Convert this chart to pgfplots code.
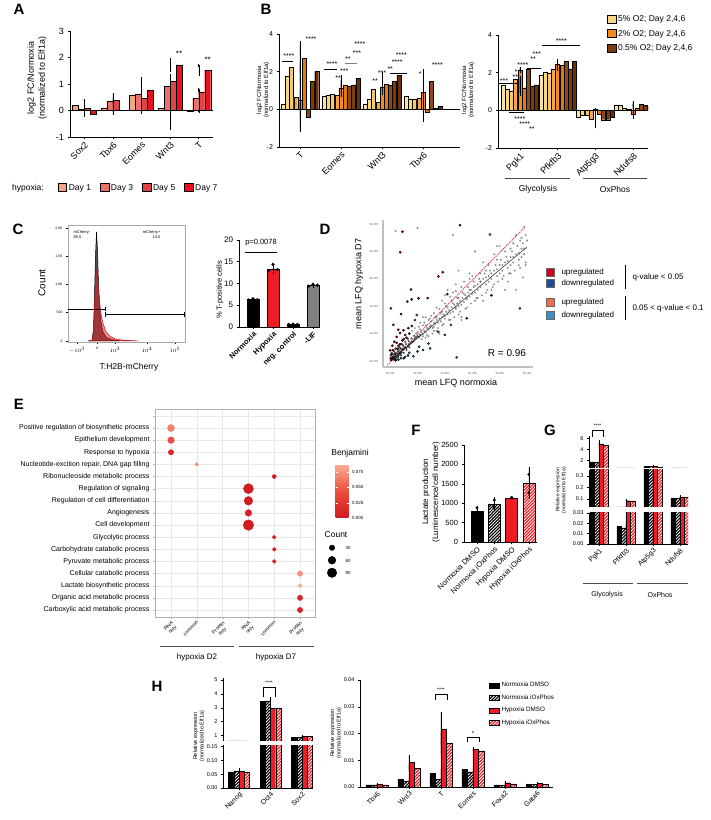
\documentclass[border=0pt]{standalone}
\usepackage{pgfplots}
\usepackage{pgfplotstable}
\pgfplotsset{compat=1.18}
\usepackage{fontspec}
\setmainfont{Liberation Sans}
\setsansfont{Liberation Sans}
\usetikzlibrary{patterns,patterns.meta}
\newcommand\fs[1]{\fontsize{#1}{#1}\selectfont}
\newcommand\fss[2]{\fontsize{#1}{#2}\selectfont}
\definecolor{dA}{HTML}{F4A684}
\definecolor{dB}{HTML}{EF6F6C}
\definecolor{dC}{HTML}{DE4448}
\definecolor{dD}{HTML}{E8121C}
\definecolor{y1}{HTML}{FBE3A0}
\definecolor{y2}{HTML}{F8D682}
\definecolor{y3}{HTML}{F5CA68}
\definecolor{o1}{HTML}{F6A548}
\definecolor{o2}{HTML}{F28C22}
\definecolor{o3}{HTML}{E67A12}
\definecolor{b1}{HTML}{8E4A16}
\definecolor{b2}{HTML}{7A3C10}
\definecolor{b3}{HTML}{68320C}
\definecolor{hred}{HTML}{EE1C25}
\definecolor{upr}{HTML}{D3001C}
\definecolor{dnb}{HTML}{1D4E9A}
\definecolor{upl}{HTML}{F36B4B}
\definecolor{dnl}{HTML}{3B8FCB}
\definecolor{pinkd}{HTML}{E8407A}

\pgfplotsset{
 every axis/.append style={scaled ticks=false, /pgf/number format/1000 sep={}, /pgf/number format/assume math mode=true},
 base/.style={scale only axis, anchor=south west, axis x line*=bottom, axis y line*=left, tick align=outside, major tick length=2.5pt, axis line style={black,line width=0.6pt}, tick style={black,line width=0.5pt}},
 B/.style n args={2}{ybar, bar shift=#1, fill=#2, draw=black, line width=0.35pt},
 E/.style={error bars/y dir=both, error bars/y explicit, error bars/error bar style={black,line width=0.4pt}, error bars/error mark options={black,mark size=1.2pt,line width=0.4pt}},
 boxlegend/.style={legend image code/.code={\draw[##1,draw=black,line width=0.4pt] (0pt,-3.5pt) rectangle (8.5pt,4.5pt);}},
 smallbox/.style={legend image code/.code={\draw[##1,draw=black,line width=0.4pt] (0pt,-2.5pt) rectangle (10pt,2.5pt);}},
 HK/.style={postaction={pattern={Lines[angle=45,distance=2.2pt,line width=0.8pt]},pattern color=white}},
}

\newcommand\Quad[5]{%
 \addplot[B={#2}{black},E] table[x=x,y=a,y error=ea]{#1};
 \addplot[B={#3}{black},HK,E] table[x=x,y=b,y error=eb]{#1};
 \addplot[B={#4}{hred},E] table[x=x,y=c,y error=ec]{#1};
 \addplot[B={#5}{hred},HK,E] table[x=x,y=d,y error=ed]{#1};}

\pgfplotstableread{
x a ea b eb c ec d ed
0 0.20 0.18 0.05 0.08 0.08 0.15 -0.15 0.05
1 0.10 0.22 0.35 0.25 0.38 0.10 0.00 0.05
2 0.57 0.65 0.60 0.22 0.45 0.10 0.75 0.05
3 0.08 0.78 0.90 0.35 1.10 0.22 1.72 0.22
4 -0.03 0.03 0.45 0.30 0.70 0.10 1.52 0.18
}\tA

\pgfplotstableread{
x s1 s2 s3 s4 s5 s6 s7 s8 s9 e1 e2 e3 e4 e5 e6 e7 e8 e9
0 0.30 1.75 2.25 0.65 0.50 2.70 -0.40 1.50 2.00 0.75 0.45 0.25 0.55 0.45 0.85 0.75 0.25 0.08
1 0.70 0.75 0.80 0.75 1.10 1.30 1.25 1.30 1.65 0.08 0.05 0.15 0.25 0.40 0.25 0.03 0.05 0.12
2 0.30 0.55 1.05 0.40 1.15 1.35 1.27 1.50 1.80 0.25 0.40 0.35 0.05 0.35 0.55 0.03 0.10 0.08
3 0.72 0.55 0.55 0.60 0.92 -0.15 1.50 0.05 0.15 0.05 0.05 0.10 0.15 0.70 0.45 0.60 0.30 0.15
}\tBl

\pgfplotstableread{
x s1 s2 s3 s4 s5 s6 s7 s8 s9 e1 e2 e3 e4 e5 e6 e7 e8 e9
0 1.35 1.10 1.00 1.65 2.15 1.20 2.20 1.30 1.35 0.05 0.03 0.05 0.10 0.08 0.05 0.05 0.45 0.40
1 1.85 2.00 1.95 2.20 2.45 2.40 2.60 2.20 2.60 0.08 0.08 0.05 0.10 0.08 0.05 0.03 0.03 0.08
2 -0.38 -0.28 -0.25 -0.45 0.05 -0.20 -0.50 -0.50 -0.35 0.20 0.10 0.10 0.30 0.02 0.15 0.40 0.40 0.20
3 0.30 0.27 0.10 0.05 -0.20 0.10 0.32 0.25 0.20 0.10 0.10 0.05 0.05 0.20 0.05 0.10 0.05 0.12
}\tBr

\pgfplotstableread{
x y n b
1 16 49 0.066
1 15 44 0.045
1 14 29 0.015
2 13 12 0.072
5 12 16 0.004
4 11 100 0.003
4 10 75 0.003
4 9 44 0.007
4 8 112 0.003
5 7 15 0.005
5 6 15 0.006
5 5 15 0.006
6 4 29 0.075
6 3 12 0.082
6 2 29 0.009
6 1 29 0.010
}\tE

\pgfplotstableread{
x a ea b eb c ec d ed
0 1.80 0.20 1.70 0.10 5.00 0.40 4.75 0.15
1 0.017 0.002 0.0155 0.001 0.085 0.003 0.083 0.002
2 0.95 0.05 0.95 0.05 0.95 0.03 0.92 0.05
3 0.105 0.003 0.103 0.002 0.118 0.004 0.112 0.003
}\tG

\pgfplotstableread{
x a ea b eb c ec d ed
0 0.058 0.008 0.062 0.003 0.060 0.007 0.057 0.007
1 3.45 0.03 3.50 0.20 2.95 0.20 2.98 0.05
2 0.86 0.02 0.87 0.02 0.92 0.05 0.92 0.03
}\tHl

\pgfplotstableread{
x a ea b eb c ec d ed
0 0.0008 0.0001 0.0008 0.0001 0.0009 0.0002 0.0008 0.0001
1 0.0028 0.0007 0.0021 0.0003 0.0092 0.0025 0.0070 0.0012
2 0.0052 0.0015 0.0029 0.0009 0.0217 0.0060 0.0162 0.0040
3 0.0065 0.0004 0.0057 0.0002 0.0142 0.0003 0.0135 0.0002
4 0.0008 0.0001 0.0007 0.0001 0.0016 0.0003 0.0012 0.0002
5 0.0010 0.0001 0.0010 0.0001 0.0013 0.0003 0.0009 0.0001
}\tHr

\begin{document}
\begin{tikzpicture}
\path[use as bounding box] (0pt,0pt) rectangle (711pt,820pt);

% ---------------- A ----------------
\begin{axis}[base, at={(70pt,683pt)}, width=143pt, height=106pt,
 ymin=-1, ymax=3, ytick={-1,0,1,2,3}, xmin=-0.5, xmax=4.5, xtick={0,1,2,3,4},
 xticklabels={Sox2,Tbx6,Eomes,Wnt3,T}, bar width=6pt,
 y tick label style={font=\fs{9}}, x tick label style={font=\fs{9}, rotate=45, anchor=north east, inner sep=1pt},
 legend columns=4, legend style={draw=none, fill=none, at={(axis description cs:0.48,-0.48)}, anchor=center, font=\fs{8.5}, /tikz/every even column/.append style={column sep=7pt}}]
\addplot[B={-9pt}{dA},E,boxlegend] table[x=x,y=a,y error=ea]{\tA}; \addlegendentry{Day 1}
\addplot[B={-3pt}{dB},E,boxlegend] table[x=x,y=b,y error=eb]{\tA}; \addlegendentry{Day 3}
\addplot[B={3pt}{dC},E,boxlegend] table[x=x,y=c,y error=ec]{\tA}; \addlegendentry{Day 5}
\addplot[B={9pt}{dD},E,boxlegend] table[x=x,y=d,y error=ed]{\tA}; \addlegendentry{Day 7}
\draw[black, line width=0.6pt] (axis cs:-0.5,0) -- (axis cs:4.5,0);
\node[font=\fs{8}, xshift=9pt] at (axis cs:3,2.15) {**};
\node[font=\fs{8}, xshift=9pt] at (axis cs:4,1.92) {**};
\end{axis}
\node[font=\fs{8.5}] at (28pt,632pt) {hypoxia:};
\node[rotate=90, align=center, font=\fss{9}{11}] at (37pt,742pt) {log2 FC/Normoxia\\(normalized to Elf1a)};

% ---------------- B left ----------------
\begin{axis}[base, at={(279pt,673pt)}, width=181pt, height=113pt,
 ymin=-2, ymax=4, ytick={-2,0,2,4}, xmin=-0.51, xmax=3.9, xtick={0,1,2,3},
 xticklabels={T,Eomes,Wnt3,Tbx6}, bar width=4pt,
 y tick label style={font=\fs{7}}, x tick label style={font=\fs{9}, rotate=45, anchor=north east, inner sep=1pt}]
\addplot[B={-16.8pt}{y1},E] table[x=x,y=s1,y error=e1]{\tBl};
\addplot[B={-12.6pt}{y2},E] table[x=x,y=s2,y error=e2]{\tBl};
\addplot[B={-8.4pt}{y3},E] table[x=x,y=s3,y error=e3]{\tBl};
\addplot[B={-4.2pt}{o1},E] table[x=x,y=s4,y error=e4]{\tBl};
\addplot[B={0pt}{o2},E] table[x=x,y=s5,y error=e5]{\tBl};
\addplot[B={4.2pt}{o3},E] table[x=x,y=s6,y error=e6]{\tBl};
\addplot[B={8.4pt}{b1},E] table[x=x,y=s7,y error=e7]{\tBl};
\addplot[B={12.6pt}{b2},E] table[x=x,y=s8,y error=e8]{\tBl};
\addplot[B={16.8pt}{b3},E] table[x=x,y=s9,y error=e9]{\tBl};
\draw[black, line width=0.6pt] (axis cs:-0.51,0) -- (axis cs:3.9,0);
\begin{scope}[font=\fs{7}]
\draw[line width=0.4pt] (axis cs:-0.44,2.55) -- (axis cs:-0.17,2.55);
\node at (axis cs:-0.27,2.85) {****};
\node at (axis cs:0.27,3.75) {****};
\draw[line width=0.4pt] (axis cs:0.58,2.15) -- (axis cs:0.9,2.15);
\node at (axis cs:0.78,2.4) {****};
\node at (axis cs:0.93,1.65) {**};
\node at (axis cs:1.08,2.05) {***};
\draw[gray, line width=0.8pt] (axis cs:1.1,2.45) -- (axis cs:1.4,2.45);
\node at (axis cs:1.17,2.65) {**};
\node at (axis cs:1.39,3.0) {***};
\node at (axis cs:1.46,3.45) {****};
\node at (axis cs:1.83,1.5) {**};
\node at (axis cs:2.0,1.95) {***};
\draw[line width=0.4pt] (axis cs:2.2,1.93) -- (axis cs:2.6,1.93);
\node at (axis cs:2.2,2.12) {**};
\node at (axis cs:2.37,2.5) {****};
\node at (axis cs:2.47,2.9) {****};
\node at (axis cs:2.93,1.85) {*};
\node at (axis cs:3.35,2.35) {****};
\end{scope}
\end{axis}
\node[rotate=90, align=center, font=\fss{6}{7}] at (263pt,730pt) {log2 FC/Normoxia\\(normalized to Elf1a)};

% ---------------- B right ----------------
\begin{axis}[base, at={(498pt,672pt)}, width=150pt, height=113pt,
 ymin=-2, ymax=4, ytick={-2,0,2,4}, xmin=-0.58, xmax=3.4, xtick={0,1,2,3},
 xticklabels={Pgk1,Pfkfb3,Atp5g3,Ndufs8}, bar width=4pt,
 y tick label style={font=\fs{7}}, x tick label style={font=\fs{9}, rotate=45, anchor=north east, inner sep=1pt},
 legend cell align=left, legend style={draw=none, fill=none, at={(axis description cs:0.727,1.19)}, anchor=north west, font=\fs{8.5}, row sep=3pt, inner sep=0pt}]
\addplot[B={-16.8pt}{y1},E,forget plot] table[x=x,y=s1,y error=e1]{\tBr};
\addplot[B={-12.6pt}{y2},E,forget plot] table[x=x,y=s2,y error=e2]{\tBr};
\addplot[B={-8.4pt}{y3},E,forget plot] table[x=x,y=s3,y error=e3]{\tBr};
\addplot[B={-4.2pt}{o1},E,forget plot] table[x=x,y=s4,y error=e4]{\tBr};
\addplot[B={0pt}{o2},E,forget plot] table[x=x,y=s5,y error=e5]{\tBr};
\addplot[B={4.2pt}{o3},E,forget plot] table[x=x,y=s6,y error=e6]{\tBr};
\addplot[B={8.4pt}{b1},E,forget plot] table[x=x,y=s7,y error=e7]{\tBr};
\addplot[B={12.6pt}{b2},E,forget plot] table[x=x,y=s8,y error=e8]{\tBr};
\addplot[B={16.8pt}{b3},E,forget plot] table[x=x,y=s9,y error=e9]{\tBr};
\addlegendimage{boxlegend, fill=y2}\addlegendentry{5\% O2; Day 2,4,6}
\addlegendimage{boxlegend, fill=o2}\addlegendentry{2\% O2; Day 2,4,6}
\addlegendimage{boxlegend, fill=b2}\addlegendentry{0.5\% O2; Day 2,4,6}
\draw[black, line width=0.6pt] (axis cs:-0.58,0) -- (axis cs:3.4,0);
\begin{scope}[font=\fs{7}]
\draw[line width=0.4pt] (axis cs:-0.6,1.45) -- (axis cs:-0.05,1.45);
\node at (axis cs:-0.42,1.55) {***};
\node at (axis cs:-0.12,1.75) {**};
\node at (axis cs:-0.1,2.05) {*};
\node at (axis cs:0.08,2.4) {****};
\node at (axis cs:0.35,2.7) {**};
\node at (axis cs:0.45,3.0) {***};
\draw[line width=0.4pt] (axis cs:0.2,2.25) -- (axis cs:0.55,2.25);
\draw[line width=0.4pt] (axis cs:-0.3,-0.1) -- (axis cs:0.1,-0.1);
\node at (axis cs:0.0,-0.45) {****};
\node at (axis cs:0.13,-0.72) {****};
\node at (axis cs:0.32,-1.0) {**};
\draw[line width=0.4pt] (axis cs:0.6,3.45) -- (axis cs:1.6,3.45);
\node at (axis cs:1.1,3.65) {****};
\end{scope}
\end{axis}
\node[rotate=90, align=center, font=\fss{6}{7}] at (468pt,730pt) {log2 FC/Normoxia\\(normalized to Elf1a)};
\draw[gray!60!black, line width=0.6pt] (505pt,642pt) -- (570pt,642pt);
\draw[gray!60!black, line width=0.6pt] (583pt,642pt) -- (647pt,642pt);
\node[font=\fs{8.5}] at (538pt,631pt) {Glycolysis};
\node[font=\fs{8.5}] at (615pt,631pt) {OxPhos};

% ---------------- C histogram ----------------
\begin{axis}[scale only axis, anchor=south west, at={(68pt,478pt)}, width=117pt, height=117pt,
 xmin=0, xmax=117, ymin=-20, ymax=2050, axis line style={gray!70, line width=0.5pt},
 xtick={9,29,47,79,107}, xticklabels={$-10^3$,0,$10^3$,$10^4$,$10^5$},
 minor xtick={13,17,20,23,26,33,37,40,43,57,63,67,70,73,76,88,94,98,101,104},
 ytick={0,500,1000,1500,2000}, yticklabels={0,500,1.0K,1.5K,2.0K},
 tick label style={font=\fs{3.5}}, tick align=outside, tick pos=left, major tick length=2pt, minor tick length=1pt, tick style={black, line width=0.3pt}]
\addplot[fill=black!85, fill opacity=0.8, draw=black, line width=0.5pt] coordinates {(20,0)(24,5)(25.5,200)(26.5,800)(27.5,1500)(28.5,1930)(29.5,1600)(30.5,1000)(31.5,620)(33,330)(35,160)(38,70)(43,25)(52,0)} \closedcycle;
\addplot[fill=hred, fill opacity=0.5, draw=hred!80!black, line width=0.5pt] coordinates {(20,0)(24,5)(25.5,150)(26.5,600)(27.5,1050)(28.5,1250)(29.5,1150)(30.5,920)(31.5,720)(33,470)(35,310)(38,160)(42,80)(47,35)(55,12)(70,0)} \closedcycle;
\draw[black, line width=0.6pt] (axis cs:0,560) -- (axis cs:37,560);
\draw[black, line width=0.6pt] (axis cs:37,520) -- (axis cs:37,600);
\draw[black, line width=0.6pt] (axis cs:37,470) -- (axis cs:117,470);
\draw[black, line width=0.6pt] (axis cs:37.6,430) -- (axis cs:37.6,510);
\draw[black, line width=0.6pt] (axis cs:116.5,430) -- (axis cs:116.5,510);
\node[font=\fss{4}{4.8}, align=left, anchor=north west] at (axis cs:2,2010) {mCherry-\\85.5};
\node[font=\fss{4}{4.8}, align=right, anchor=north east] at (axis cs:96,2010) {mCherry+\\14.5};
\end{axis}
\node[rotate=90, font=\fs{10}] at (42pt,537pt) {Count};
\node[font=\fs{8.5}] at (129pt,453pt) {T:H2B-mCherry};

% ---------------- C bars ----------------
\begin{axis}[base, at={(239pt,493pt)}, width=81pt, height=87pt,
 ymin=0, ymax=20, ytick={0,5,10,15,20}, xmin=-0.7, xmax=3.35, xtick={0,1,2,3},
 xticklabels={Normoxia,Hypoxia,neg. control,-LIF}, bar width=12pt,
 y tick label style={font=\fs{8}}, x tick label style={font=\bfseries\fs{7.5}, rotate=45, anchor=north east, inner sep=1pt}]
\addplot[B={0pt}{black},E] coordinates {(0,6.3) +- (0,0.2)};
\addplot[B={0pt}{hred},E] coordinates {(1,13.3) +- (0,0.8)};
\addplot[B={0pt}{black},E] coordinates {(2,0.6) +- (0,0.05)};
\addplot[B={0pt}{gray},E] coordinates {(3,9.6) +- (0,0.25)};
\addplot[only marks, mark=*, mark size=1.4pt, black] coordinates {(-0.22,6.2)(0,6.5)(0.22,6.3)(0.78,13.0)(1,14.4)(1.22,13.2)(1.78,0.6)(2,0.65)(2.22,0.6)(2.78,9.4)(3,9.8)(3.22,9.6)};
\end{axis}
\draw[line width=0.5pt] (245pt,568pt) -- (277pt,568pt);
\node[font=\fs{7.5}] at (261pt,577pt) {p=0.0078};
\node[rotate=90, font=\fs{7.5}] at (220pt,530pt) {\% T-positive cells};

% ---------------- D scatter ----------------
\begin{axis}[scale only axis, anchor=south west, at={(383pt,453pt)}, width=150pt, height=147pt,
 xmin=-0.26, xmax=5.22, ymin=-0.22, ymax=5.15, axis x line*=bottom, axis y line*=left,
 axis line style={gray!50, line width=1.3pt}, xtick={0,1,2,3,4,5}, ytick={0,1,2,3,4,5},
 xticklabels={0e+00,1e+06,2e+06,3e+06,4e+06,5e+06}, yticklabels={0e+00,1e+06,2e+06,3e+06,4e+06,5e+06},
 tick label style={font=\fs{3}, text=gray!70!black}, tick style={gray!60}, major tick length=1.5pt, tick align=outside]
\addplot[only marks, mark=*, mark size=0.8pt, mark options={fill=gray!55, draw=none, opacity=0.45}] coordinates {
(1.15,1.05)(1.2,0.98)(1.25,1.1)(1.3,1.05)(1.35,1.2)(1.4,1.15)(1.45,1.25)(1.5,1.3)(1.55,1.2)(1.6,1.4)(1.65,1.35)(1.7,1.5)(1.75,1.4)(1.8,1.55)(1.85,1.45)(1.9,1.6)(1.95,1.7)(2.0,1.55)(2.05,1.8)(2.1,1.7)(2.15,1.85)(2.2,1.75)(2.25,1.95)(2.3,1.8)(2.35,2.05)(2.4,1.9)(2.45,2.1)(2.5,2.0)(2.55,2.2)(2.6,2.05)(2.65,2.3)(2.7,2.15)(2.75,2.4)(2.8,2.25)(2.85,2.5)(2.9,2.35)(2.95,2.6)(3.0,2.45)(1.2,1.3)(1.4,1.5)(1.6,1.75)(1.8,1.9)(2.0,2.1)(2.2,2.35)(2.4,2.55)(2.6,2.7)(1.3,0.85)(1.6,1.1)(1.9,1.3)(2.2,1.5)(2.5,1.7)(2.8,1.95)(1.5,1.65)(1.7,1.95)(2.3,2.5)(2.7,2.9)
(3.05,2.7)(3.1,2.5)(3.2,2.8)(3.3,2.7)(3.4,3.0)(3.5,2.8)(3.6,3.1)(3.7,3.0)(3.8,3.3)(3.9,3.1)(4.0,3.5)(4.1,3.3)(4.2,3.6)(4.3,3.4)(4.4,3.8)(4.5,3.6)(4.6,3.9)(4.7,3.7)(4.8,4.1)(4.9,3.9)(3.3,3.2)(3.6,3.5)(3.9,3.7)(4.2,4.0)(4.5,4.3)(4.8,4.5)(3.2,2.3)(3.5,2.5)(3.8,2.8)(4.1,3.0)(4.4,3.2)(4.7,3.5)(5.0,4.4)(4.95,4.6)(3.0,3.1)(3.4,3.6)(4.0,4.2)(0.2,4.75)(1.0,4.85)(2.3,4.6)(4.9,4.9)(4.75,4.4)(3.1,4.0)(2.5,3.3)(4.85,3.05)(4.6,2.6)(1.1,1.4)(1.3,1.6)(0.9,1.2)(2.1,2.6)(2.9,3.2)(3.7,2.6)(4.3,2.9)(1.4,0.9)(1.7,1.1)(2.6,1.6)(3.1,2.2)(3.5,3.3)(3.3,2.9)(2.0,2.4)(2.4,2.8)(1.2,1.6)(0.8,1.1)(4.95,3.5)(4.4,4.1)(3.9,4.2)
(1.05,1.25)(1.15,0.8)(1.25,1.4)(1.35,0.95)(1.45,1.55)(1.55,1.0)(1.65,1.6)(1.75,1.2)(1.85,1.75)(1.95,1.35)(2.05,2.0)(2.15,1.5)(2.25,2.2)(2.35,1.6)(2.45,2.3)(2.55,1.8)(2.65,2.5)(2.75,1.9)(2.85,2.7)(2.95,2.1)(3.05,2.9)(3.15,2.3)(3.25,3.0)(3.35,2.4)(3.45,3.2)(3.55,2.6)(3.65,3.3)(3.75,2.7)(3.85,3.5)(3.95,2.9)(4.05,3.7)(4.15,3.1)(4.25,3.8)(4.35,3.2)(4.45,4.0)(4.55,3.3)(4.65,4.2)(4.75,3.4)(4.85,4.3)(4.95,3.6)(1.1,1.15)(1.3,1.3)(1.5,1.45)(1.7,1.6)(1.9,1.8)(2.1,1.95)(2.3,2.1)(2.5,2.3)(2.7,2.45)(2.9,2.6)(3.1,2.75)(3.3,2.9)(3.5,3.05)(3.7,3.2)(3.9,3.35)(4.1,3.5)(4.3,3.65)(4.5,3.8)(4.7,3.95)(4.9,4.1)(1.2,0.9)(1.6,1.25)(2.0,1.65)(2.4,1.95)(2.8,2.3)(3.2,2.6)(3.6,2.9)(4.0,3.2)(4.4,3.5)(4.8,3.8)(1.0,1.05)(0.95,1.0)(1.9,2.2)(2.9,3.0)(3.8,3.9)(4.6,4.6)(3.4,2.2)(2.6,1.5)(1.8,1.0)(4.2,2.6)
};
\addplot[only marks, mark=*, mark size=0.9pt, mark options={fill=black, draw=none, opacity=0.55}] coordinates {
(0.05,0.05)(0.1,0.08)(0.15,0.12)(0.2,0.18)(0.08,0.15)(0.12,0.05)(0.25,0.2)(0.3,0.28)(0.18,0.25)(0.35,0.3)(0.4,0.35)(0.22,0.1)(0.28,0.35)(0.45,0.4)(0.5,0.42)(0.38,0.45)(0.55,0.5)(0.6,0.48)(0.32,0.22)(0.42,0.3)(0.48,0.55)(0.65,0.55)(0.7,0.6)(0.58,0.62)(0.75,0.65)(0.8,0.7)(0.68,0.72)(0.85,0.72)(0.9,0.8)(0.78,0.82)(0.95,0.85)(1.0,0.9)(0.88,0.92)(1.05,0.88)(1.1,0.95)(0.02,0.2)(0.06,0.3)(0.15,0.35)(0.25,0.45)(0.1,0.25)(0.2,0.05)(0.3,0.15)(0.4,0.2)(0.5,0.3)(0.6,0.4)(0.7,0.5)(0.55,0.7)(0.45,0.6)(0.35,0.5)(0.65,0.8)(0.03,0.03)(0.07,0.1)(0.13,0.18)(0.17,0.08)(0.23,0.28)(0.27,0.15)(0.33,0.38)(0.37,0.25)(0.43,0.45)(0.52,0.48)
};
\addplot[pinkd, densely dotted, line width=1.1pt] coordinates {(-0.1,-0.15)(4.93,4.89)};
\addplot[gray!50!black, line width=0.6pt] coordinates {(0,0)(5.0,4.16)};
\addplot[only marks, mark=*, mark size=1.1pt, mark options={fill=upr, draw=none}] coordinates {
(2.55,4.96)(0.45,4.72)(0.37,3.97)(1.92,3.24)(1.76,3.09)(0.76,2.61)(2.09,2.44)(0.03,1.92)(0.79,2.25)(1.04,2.29)(1.37,2.3)(0.63,2.17)(0.4,1.71)(0.12,1.32)(0.3,1.14)(0.49,1.12)(0.67,1.2)(0.79,1.28)(0.36,1.02)(0.24,0.88)(0.08,0.56)(0.24,0.66)(0.0,0.39)(0.18,0.27)(0.05,0.25)(0.1,0.4)(0.15,0.7)(0.45,0.75)(0.6,0.85)(0.02,0.1)(0.35,0.6)(0.55,0.95)(0.7,1.0)(0.12,0.15)(0.28,0.45)
};
\addplot[only marks, mark=*, mark size=1.1pt, mark options={fill=upl, draw=none}] coordinates {(3.65,4.62)(0.97,1.68)(0.91,1.5)(0.3,0.55)(0.5,0.8)(0.2,0.45)(0.4,0.62)};
\addplot[only marks, mark=*, mark size=1.1pt, mark options={fill=dnb, draw=none}] coordinates {(2.8,1.56)(3.7,2.4)(0.3,0.05)(0.5,0.1)(0.2,0.02)(0.65,0.2)};
\addplot[only marks, mark=*, mark size=1.1pt, mark options={fill=dnl, draw=none}] coordinates {(2.22,1.32)(1.76,1.07)(2.0,0.95)(1.4,0.64)(1.46,0.46)(1.06,0.52)(2.43,0.13)(0.85,0.17)(0.55,0.15)(4.74,1.92)(0.7,0.3)(1.0,0.35)(0.4,0.1)(1.2,0.4)};
\end{axis}
\node[rotate=90, font=\fs{9}] at (359pt,536pt) {mean LFQ hypoxia D7};
\node[font=\fs{9}] at (456pt,437pt) {mean LFQ normoxia};
\node[font=\fs{10}] at (507pt,467pt) {R = 0.96};
\filldraw[fill=upr, draw=black!60, line width=0.3pt] (546pt,544pt) rectangle (554pt,552pt);
\filldraw[fill=dnb, draw=black!60, line width=0.3pt] (546pt,533pt) rectangle (554pt,541pt);
\filldraw[fill=upl, draw=black!60, line width=0.3pt] (546pt,514pt) rectangle (554pt,522pt);
\filldraw[fill=dnl, draw=black!60, line width=0.3pt] (546pt,501pt) rectangle (554pt,509pt);
\node[font=\fs{8}, anchor=west] at (558pt,548pt) {upregulated};
\node[font=\fs{8}, anchor=west] at (558pt,537pt) {downregulated};
\node[font=\fs{8}, anchor=west] at (558pt,518pt) {upregulated};
\node[font=\fs{8}, anchor=west] at (558pt,505pt) {downregulated};
\draw[line width=0.5pt] (625pt,555pt) -- (625pt,531pt);
\draw[line width=0.5pt] (625pt,524pt) -- (625pt,500pt);
\node[font=\fs{8}, anchor=west] at (629pt,543pt) {q-value < 0.05};
\node[font=\fs{8}, anchor=west] at (629pt,512pt) {0.05 < q-value < 0.1};

% ---------------- E dot plot ----------------
\begin{axis}[scale only axis, anchor=south west, at={(155pt,203pt)}, width=160pt, height=208pt,
 xmin=0.38, xmax=6.58, ymin=0.42, ymax=17.57, xtick={1,2,3,4,5,6},
 xticklabels={{RNA\\only},common,{Protein\\only},{RNA\\only},common,{Protein\\only}},
 ytick={1,...,17},
 yticklabels={Carboxylic acid metabolic process,Organic acid metabolic process,Lactate biosynthetic process,Cellular catabolic process,Pyruvate metabolic process,Carbohydrate catabolic process,Glycolytic process,Cell development,Angiogenesis,Regulation of cell differentiation,Regulation of signaling,Ribonucleoside metabolic process,{Nucleotide-excition repair, DNA gap filling},Response to hypoxia,Epithelium development,Positive regulation of biosynthetic process,{}},
 y tick label style={font=\fs{7}}, x tick label style={font=\fss{5}{5.5}, rotate=45, anchor=north east, align=center, inner sep=1pt},
 grid=major, grid style={gray!18, line width=0.4pt}, axis line style={gray!60}, tick style={gray!60}, tick align=outside, tick pos=left, major tick length=2pt,
 colormap={benj}{rgb255=(208,25,30) rgb255=(234,78,60) rgb255=(250,176,148)},
 point meta min=0, point meta max=0.088,
 colorbar, colorbar style={scale only axis, at={(parent axis.north east)}, anchor=north west, xshift=12pt, yshift=-55pt, width=13pt, height=54pt,
   ytick={0,0.025,0.05,0.075}, yticklabels={0.000,0.025,0.050,0.075}, yticklabel style={font=\fs{4.5}},
   axis line style={draw=none}, ytick style={draw=white}, major tick length=2pt}]
\addplot[scatter, only marks, mark=*, point meta=explicit,
  scatter/use mapped color={draw=mapped color, fill=mapped color},
  visualization depends on={0.5*sqrt(\thisrow{n})\as\rad},
  scatter/@pre marker code/.append style={/tikz/mark size=\rad}]
  table[x=x, y=y, meta=b] {\tE};
\end{axis}
\begin{axis}[scale only axis, hide axis, anchor=south west, at={(326pt,241pt)}, width=14pt, height=37.5pt, xmin=0, xmax=1, ymin=0.5, ymax=3.5, clip=false]
\addplot[only marks, mark=*, mark size=2.74pt, black] coordinates {(0.43,3)};
\addplot[only marks, mark=*, mark size=3.87pt, black] coordinates {(0.43,2)};
\addplot[only marks, mark=*, mark size=4.74pt, black] coordinates {(0.43,1)};
\end{axis}
\node[font=\fs{8.5}] at (350pt,367pt) {Benjamini};
\node[font=\fs{8.5}] at (336pt,285pt) {Count};
\node[font=\fs{4.5}, anchor=west] at (342pt,272pt) {30};
\node[font=\fs{4.5}, anchor=west] at (342pt,259pt) {60};
\node[font=\fs{4.5}, anchor=west] at (342pt,247pt) {90};
\draw[gray!60!black, line width=0.6pt] (160pt,174pt) -- (234pt,174pt);
\draw[gray!60!black, line width=0.6pt] (239pt,174pt) -- (314pt,174pt);
\node[font=\fs{8}] at (197pt,163pt) {hypoxia D2};
\node[font=\fs{8}] at (276pt,163pt) {hypoxia D7};

% ---------------- F ----------------
\begin{axis}[base, at={(464pt,278pt)}, width=73pt, height=97pt,
 ymin=0, ymax=2500, ytick={0,500,1000,1500,2000,2500}, xmin=-0.75, xmax=3.47, xtick={0,1,2,3},
 xticklabels={Normoxia DMSO,Normoxia iOxPhos,Hypoxia DMSO,Hypoxia iOxPhos}, bar width=12pt,
 y tick label style={font=\fs{7.5}}, x tick label style={font=\fs{7.5}, rotate=45, anchor=north east, inner sep=1pt}]
\addplot[B={0pt}{black},E] coordinates {(0,800) +- (0,100)};
\addplot[B={0pt}{black},HK,E] coordinates {(1,970) +- (0,150)};
\addplot[B={0pt}{hred},E] coordinates {(2,1140) +- (0,15)};
\addplot[B={0pt}{hred},HK,E] coordinates {(3,1520) +- (0,380)};
\addplot[only marks, mark=*, mark size=1.3pt, black] coordinates {(0,880)(0,760)(1,1080)(1,900)(2,1150)(2,1130)(3,1740)(3,1270)};
\end{axis}
\node[rotate=90, align=center, font=\fss{8}{10}] at (431pt,328pt) {Lactate production\\(Luminescence/cell number)};

% ---------------- G ----------------
\begin{axis}[base, at={(589pt,276pt)}, width=99pt, height=31pt,
 ymin=0, ymax=0.03, ytick={0,0.01,0.02,0.03}, yticklabels={0.00,0.01,0.02,0.03},
 xmin=-0.37, xmax=3.3, xtick={0,1,2,3}, xticklabels={Pgk1,Pfkfb3,Atp5g3,Ndufs8}, bar width=4.5pt,
 y tick label style={font=\fs{5.5}}, x tick label style={font=\fs{7}, rotate=45, anchor=north east, inner sep=1pt}, major tick length=2pt]
\Quad{\tG}{-6.75pt}{-2.25pt}{2.25pt}{6.75pt}
\end{axis}
\begin{axis}[base, at={(589pt,313pt)}, width=99pt, height=37pt, axis x line=none,
 ymin=0.03, ymax=0.352, ytick={0.1,0.2,0.3}, yticklabels={0.1,0.2,0.3},
 xmin=-0.37, xmax=3.3, xtick=\empty, bar width=4.5pt, y tick label style={font=\fs{5.5}}, major tick length=2pt]
\Quad{\tG}{-6.75pt}{-2.25pt}{2.25pt}{6.75pt}
\end{axis}
\begin{axis}[base, at={(589pt,352pt)}, width=99pt, height=32pt, axis x line=none,
 ymin=0.7, ymax=6.4, ytick={2,4,6},
 xmin=-0.37, xmax=3.3, xtick=\empty, bar width=4.5pt, y tick label style={font=\fs{5.5}}, major tick length=2pt]
\Quad{\tG}{-6.75pt}{-2.25pt}{2.25pt}{6.75pt}
\end{axis}
\node[rotate=90, align=center, font=\fss{5}{6}] at (561pt,330pt) {Relative expression\\(normalized to Elf1a)};
\draw[line width=0.4pt] (592pt,383pt) -- (592pt,390pt) -- (603pt,390pt) -- (603pt,383pt);
\node[font=\fs{5}] at (597.5pt,394pt) {****};
\draw[gray!60!black, line width=0.6pt] (583pt,237pt) -- (633pt,237pt);
\draw[gray!60!black, line width=0.6pt] (637pt,237pt) -- (688pt,237pt);
\node[font=\fs{7}] at (607pt,225pt) {Glycolysis};
\node[font=\fs{7}] at (660pt,225pt) {OxPhos};

% ---------------- H left ----------------
\begin{axis}[base, at={(223pt,32pt)}, width=90pt, height=43pt,
 ymin=0, ymax=0.155, ytick={0,0.05,0.1,0.15}, yticklabels={0.00,0.05,0.10,0.15},
 xmin=-0.51, xmax=2.35, xtick={0,1,2}, xticklabels={Nanog,Oct4,Sox2}, bar width=5.2pt,
 y tick label style={font=\fs{5.5}}, x tick label style={font=\fs{7}, rotate=45, anchor=north east, inner sep=1pt}, major tick length=2pt]
\Quad{\tHl}{-7.8pt}{-2.6pt}{2.6pt}{7.8pt}
\end{axis}
\begin{axis}[base, at={(223pt,79pt)}, width=90pt, height=63pt, axis x line=none,
 ymin=0.6, ymax=5.15, ytick={1,2,3,4,5},
 xmin=-0.51, xmax=2.35, xtick=\empty, bar width=5.2pt, y tick label style={font=\fs{5.5}}, major tick length=2pt]
\Quad{\tHl}{-7.8pt}{-2.6pt}{2.6pt}{7.8pt}
\end{axis}
\node[rotate=90, align=center, font=\fss{5.5}{6.5}] at (199pt,84pt) {Relative expression\\(normalized to Elf1a)};
\draw[line width=0.4pt] (263pt,123pt) -- (263pt,133pt) -- (275pt,133pt) -- (275pt,123pt);
\node[font=\fs{5}] at (269pt,137pt) {****};

% ---------------- H right ----------------
\begin{axis}[base, at={(360pt,33pt)}, width=193pt, height=107pt,
 ymin=0, ymax=0.04, ytick={0,0.01,0.02,0.03,0.04}, yticklabels={0.00,0.01,0.02,0.03,0.04},
 xmin=-0.53, xmax=5.5, xtick={0,1,2,3,4,5}, xticklabels={Tbx6,Wnt3,T,Eomes,Foxa2,Gata6}, bar width=5.5pt,
 y tick label style={font=\fs{5.5}}, x tick label style={font=\fs{7}, rotate=45, anchor=north east, inner sep=1pt}, major tick length=2pt,
 legend cell align=left, legend style={draw=none, fill=none, at={(axis description cs:0.668,1.0)}, anchor=north west, font=\fs{6.3}, row sep=2.5pt, inner sep=0pt}]
\addplot[B={-8.25pt}{black},E,smallbox] table[x=x,y=a,y error=ea]{\tHr}; \addlegendentry{Normoxia DMSO}
\addplot[B={-2.75pt}{black},HK,E,smallbox] table[x=x,y=b,y error=eb]{\tHr}; \addlegendentry{Normoxia iOxPhos}
\addplot[B={2.75pt}{hred},E,smallbox] table[x=x,y=c,y error=ec]{\tHr}; \addlegendentry{Hypoxia DMSO}
\addplot[B={8.25pt}{hred},HK,E,smallbox] table[x=x,y=d,y error=ed]{\tHr}; \addlegendentry{Hypoxia iOxPhos}
\end{axis}
\node[rotate=90, align=center, font=\fss{5.5}{6.5}] at (336pt,87pt) {Relative expression\\(normalized to Elf1a)};
\draw[line width=0.4pt] (435pt,120pt) -- (435pt,126pt) -- (447pt,126pt) -- (447pt,120pt);
\node[font=\fs{5}] at (441pt,130pt) {****};
\draw[line width=0.4pt] (467pt,78pt) -- (467pt,83pt) -- (479pt,83pt) -- (479pt,78pt);
\node[font=\fs{6}] at (473pt,87pt) {*};

% ---------------- panel letters ----------------
\begin{scope}[font=\bfseries\fs{15}]
\node at (19pt,811pt) {A};
\node at (266pt,811pt) {B};
\node at (18pt,591pt) {C};
\node at (325pt,591pt) {D};
\node at (19pt,416pt) {E};
\node at (416pt,390pt) {F};
\node at (550pt,390pt) {G};
\node at (157pt,134pt) {H};
\end{scope}
\end{tikzpicture}
\end{document}
